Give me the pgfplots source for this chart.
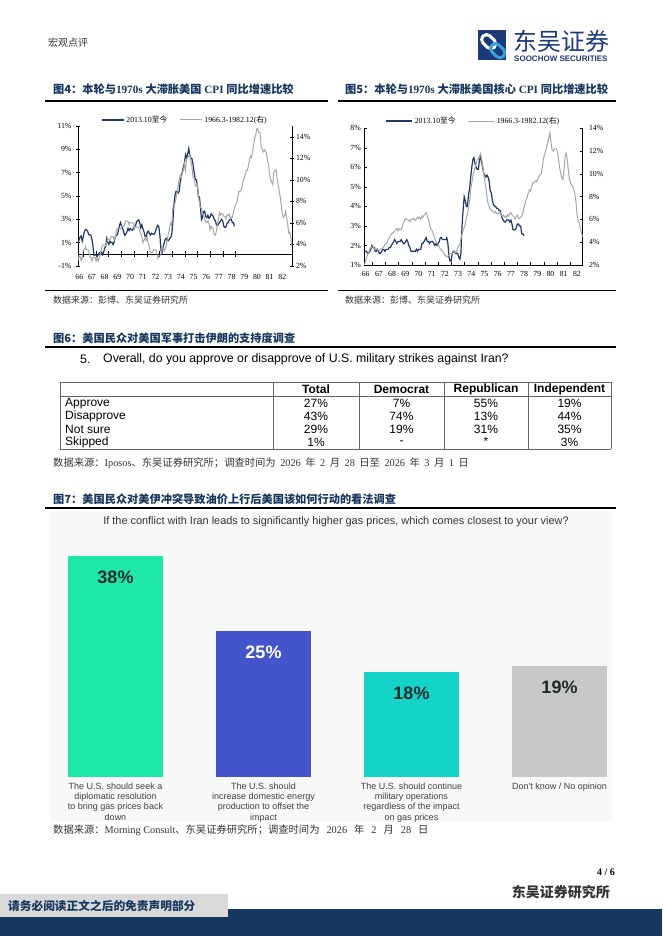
\documentclass[border=0pt]{standalone}
\usepackage{fontspec}
\usepackage{pgfplots}
\usepackage{pgfplotstable}
\pgfplotsset{compat=1.18}
\setmainfont{Liberation Serif}
\newfontfamily\cjk{Noto Sans CJK SC}
\newfontfamily\arial{Liberation Sans}
\definecolor{navy}{HTML}{1F3864}
\definecolor{ttl}{HTML}{17375E}
\definecolor{gline}{HTML}{A6A6A6}
\definecolor{bar1}{HTML}{1DE8A7}
\definecolor{bar2}{HTML}{4454CB}
\definecolor{bar3}{HTML}{14D3C7}
\definecolor{bar4}{HTML}{C8C8C8}
\definecolor{footnavy}{HTML}{17375E}
\definecolor{footgray}{HTML}{D9D9D9}
\definecolor{logonavy}{HTML}{1B3A78}
\definecolor{logoblue}{HTML}{3A9FDC}
\definecolor{srcgray}{HTML}{333333}
\definecolor{panelbg}{HTML}{F8F8F8}
\definecolor{lblgray}{HTML}{404040}
\definecolor{darklbl}{HTML}{1E2B2B}

% US CPI YoY, 2013.10 onwards (left axis, fig 4)
\pgfplotstableread[header=false,row sep=\\]{
0.96\\1.24\\1.50\\1.58\\1.13\\1.51\\1.95\\2.13\\2.07\\1.99\\1.70\\1.66\\1.66\\1.32\\0.76\\
-0.09\\-0.03\\-0.07\\-0.20\\-0.04\\0.12\\0.17\\0.20\\-0.04\\0.17\\0.50\\0.73\\
1.37\\1.02\\0.85\\1.13\\1.02\\1.01\\0.83\\1.06\\1.46\\1.64\\1.69\\2.07\\
2.50\\2.74\\2.38\\2.20\\1.87\\1.63\\1.73\\1.94\\2.23\\2.04\\2.20\\2.11\\
2.07\\2.21\\2.36\\2.46\\2.80\\2.87\\2.95\\2.70\\2.28\\2.52\\2.18\\1.91\\
1.55\\1.52\\1.86\\2.00\\1.79\\1.65\\1.81\\1.75\\1.71\\1.76\\2.05\\2.29\\
2.49\\2.33\\1.54\\0.33\\0.12\\0.65\\0.99\\1.31\\1.37\\1.18\\1.17\\1.36\\
1.40\\1.68\\2.62\\4.16\\4.99\\5.39\\5.37\\5.25\\5.39\\6.22\\6.81\\7.04\\
7.48\\7.87\\8.54\\8.26\\8.58\\9.06\\8.52\\8.26\\8.20\\7.75\\7.11\\6.45\\
6.41\\6.04\\4.98\\4.93\\4.05\\2.97\\3.18\\3.67\\3.70\\3.24\\3.14\\3.35\\
3.09\\3.17\\3.48\\3.36\\3.27\\2.97\\2.89\\2.53\\2.44\\2.60\\2.75\\2.89\\
3.00\\2.82\\2.39\\2.31\\2.35\\2.67\\2.70\\2.92\\3.01\\3.00\\2.70\\2.70\\2.40\\
}\cpinew

% US CPI YoY, 1966.3-1982.12 (right axis, fig 4)
\pgfplotstableread[header=false,row sep=\\]{
2.5\\2.9\\2.9\\2.5\\2.8\\3.5\\3.5\\3.8\\3.5\\3.5\\
3.46\\2.82\\2.82\\2.46\\2.79\\2.79\\2.78\\2.45\\2.78\\2.44\\2.77\\3.04\\
3.65\\3.95\\3.94\\3.93\\3.92\\4.20\\4.49\\4.48\\4.46\\4.75\\4.73\\4.72\\
4.40\\4.70\\5.24\\5.50\\5.52\\5.48\\5.44\\5.71\\5.70\\5.68\\5.93\\6.20\\
6.18\\6.15\\5.82\\6.06\\6.04\\6.01\\5.98\\5.41\\5.66\\5.63\\5.60\\5.57\\
5.29\\5.00\\4.71\\4.16\\4.40\\4.64\\4.36\\4.62\\4.08\\3.80\\3.28\\3.27\\
3.27\\3.51\\3.50\\3.49\\3.23\\2.71\\2.95\\2.94\\3.19\\3.42\\3.67\\3.41\\
3.65\\3.88\\4.59\\5.06\\5.53\\5.99\\5.73\\7.38\\7.36\\7.80\\8.25\\8.71\\
9.39\\10.02\\10.39\\10.09\\10.71\\10.86\\11.51\\10.86\\11.95\\12.06\\12.20\\12.34\\
11.80\\11.23\\10.25\\10.21\\9.47\\9.39\\9.72\\8.60\\7.91\\7.44\\7.38\\6.94\\
6.72\\6.29\\6.07\\6.05\\6.20\\5.97\\5.35\\5.71\\5.49\\5.46\\4.88\\4.86\\
5.22\\5.91\\6.44\\6.95\\6.73\\6.87\\6.83\\6.62\\6.60\\6.39\\6.72\\6.70\\
6.84\\6.43\\6.55\\6.50\\6.97\\7.41\\7.70\\7.84\\8.31\\8.93\\8.89\\9.02\\
9.28\\9.86\\10.09\\10.49\\10.85\\10.89\\11.26\\11.82\\12.18\\12.07\\12.61\\13.29\\
13.91\\14.18\\14.76\\14.73\\14.41\\14.38\\13.13\\12.87\\12.60\\12.77\\12.65\\12.52\\
11.83\\11.41\\10.49\\10.00\\9.78\\9.55\\10.76\\10.80\\10.95\\10.14\\9.59\\8.92\\
8.39\\7.62\\6.78\\6.51\\6.68\\7.06\\6.44\\5.85\\5.04\\5.14\\4.59\\3.83\\
}\cpiold

% US core CPI YoY, 2013.10 onwards (left axis, fig 5)
\pgfplotstableread[header=false,row sep=\\]{
1.7\\1.7\\1.7\\1.6\\1.6\\1.7\\1.8\\2.0\\1.9\\1.9\\1.7\\1.7\\1.8\\1.7\\1.6\\
1.6\\1.7\\1.8\\1.8\\1.7\\1.8\\1.8\\1.8\\1.9\\1.9\\2.0\\2.1\\
2.2\\2.3\\2.2\\2.1\\2.2\\2.2\\2.2\\2.3\\2.2\\2.1\\2.1\\2.2\\
2.3\\2.2\\2.0\\1.9\\1.7\\1.7\\1.7\\1.7\\1.7\\1.8\\1.7\\1.8\\
1.8\\1.8\\2.1\\2.1\\2.2\\2.3\\2.4\\2.2\\2.2\\2.1\\2.2\\2.2\\
2.2\\2.1\\2.0\\2.1\\2.0\\2.1\\2.2\\2.4\\2.4\\2.3\\2.3\\2.3\\
2.3\\2.4\\2.1\\1.4\\1.2\\1.2\\1.6\\1.7\\1.7\\1.6\\1.6\\1.6\\
1.4\\1.3\\1.6\\3.0\\3.8\\4.5\\4.3\\4.0\\4.0\\4.6\\4.9\\5.5\\
6.0\\6.4\\6.5\\6.2\\6.0\\5.9\\5.9\\6.3\\6.6\\6.3\\6.0\\5.7\\
5.6\\5.5\\5.6\\5.5\\5.3\\4.8\\4.7\\4.3\\4.1\\4.0\\4.0\\3.9\\
3.9\\3.8\\3.8\\3.6\\3.4\\3.3\\3.2\\3.2\\3.3\\3.3\\3.3\\3.2\\
3.3\\3.1\\2.8\\2.8\\2.8\\2.9\\3.1\\3.1\\3.0\\3.0\\2.6\\2.6\\2.5\\
}\corenew

% US core CPI YoY, 1966.3-1982.12 (right axis, fig 5)
\pgfplotstableread[header=false,row sep=\\]{
2.0\\2.3\\2.6\\2.9\\3.1\\3.4\\3.5\\3.6\\3.6\\3.4\\
3.5\\3.4\\3.3\\3.3\\3.3\\3.4\\3.4\\3.5\\3.6\\3.8\\3.9\\4.0\\
4.2\\4.4\\4.6\\4.7\\4.8\\4.9\\5.0\\5.1\\5.2\\5.0\\5.2\\5.1\\
5.1\\5.4\\5.7\\5.9\\6.1\\6.0\\6.0\\5.9\\5.8\\6.0\\6.0\\6.1\\
6.0\\5.9\\6.0\\6.2\\6.1\\6.2\\6.0\\6.3\\6.2\\6.4\\6.5\\6.6\\
6.3\\6.0\\5.6\\5.2\\5.1\\4.9\\4.6\\4.3\\4.1\\3.9\\3.8\\3.6\\
3.4\\3.3\\3.2\\3.1\\2.9\\2.8\\2.7\\2.8\\2.9\\3.0\\3.0\\3.0\\
3.1\\3.2\\3.1\\3.2\\3.5\\3.7\\3.8\\4.3\\4.7\\5.0\\5.3\\5.6\\
6.1\\6.5\\7.0\\7.6\\8.6\\9.2\\9.8\\10.2\\10.5\\10.9\\11.2\\11.3\\
11.6\\11.7\\11.3\\10.8\\10.0\\9.3\\8.8\\8.0\\7.4\\7.1\\6.9\\6.8\\
6.8\\6.6\\6.6\\6.7\\6.5\\6.5\\6.6\\6.6\\6.4\\6.3\\6.4\\6.2\\
6.3\\6.2\\6.4\\6.3\\6.5\\6.6\\6.4\\6.3\\6.2\\6.0\\6.3\\6.4\\
6.1\\6.1\\6.2\\6.3\\6.6\\7.0\\7.3\\7.7\\7.9\\8.3\\8.6\\8.5\\
8.8\\9.2\\9.2\\9.3\\9.4\\9.3\\9.6\\9.8\\9.9\\10.0\\10.6\\11.3\\
11.7\\12.0\\12.4\\12.8\\13.2\\13.6\\12.7\\12.1\\12.0\\12.2\\12.2\\12.2\\
11.9\\11.3\\10.5\\10.0\\9.6\\9.5\\10.4\\11.6\\11.8\\11.2\\10.3\\9.5\\
9.2\\9.0\\8.9\\8.6\\8.2\\7.5\\6.4\\5.8\\5.7\\5.2\\4.8\\4.5\\
}\coreold

\pgfplotsset{
  linechart/.style={
    scale only axis, anchor=south west,
    xmin=0, xmax=201,
    tick label style={font=\fontsize{7.8}{9}\selectfont, text=black},
    axis line style={black, line width=0.6pt},
    every tick/.style={black, line width=0.5pt},
    clip=false,
  },
}
\newcommand{\gsp}{\hspace{4.5pt}}
\newcommand{\hsp}{\hspace{7pt}}

\begin{document}
\begin{tikzpicture}
\fill[white] (0pt,0pt) rectangle (662pt,936pt);

% ---------------- header ----------------
\node[anchor=west, inner sep=0, font=\cjk\fontsize{10}{12}\selectfont, text=srcgray] at (48pt,893pt) {宏观点评};
\fill[logonavy] (478pt,876pt) rectangle (506pt,906pt);
\draw[white, line width=3pt, rounded corners=5pt, rotate around={-45:(488pt,895pt)}] (481pt,890pt) rectangle (497pt,900pt);
\draw[logoblue, line width=3pt, rounded corners=5pt, rotate around={-45:(497pt,886pt)}] (490pt,881pt) rectangle (506pt,891pt);
\node[anchor=west, inner sep=0, font=\cjk\fontsize{24}{26}\selectfont, text=logonavy] at (513pt,895pt) {东吴证券};
\node[anchor=west, inner sep=0, font=\arial\bfseries\fontsize{8}{9}\selectfont, text=logonavy] at (514pt,877pt) {SOOCHOW SECURITIES};

% ---------------- figure 4 / 5 titles ----------------
\node[anchor=west, inner sep=0, text=ttl, font=\fontsize{11.2}{13}\selectfont] at (53pt,847pt)
  {{\cjk\bfseries 图4：本轮与}\textbf{1970s} {\cjk\bfseries 大滞胀美国} \textbf{CPI} {\cjk\bfseries 同比增速比较}};
\node[anchor=west, inner sep=0, text=ttl, font=\fontsize{11.2}{13}\selectfont] at (345pt,847pt)
  {{\cjk\bfseries 图5：本轮与}\textbf{1970s} {\cjk\bfseries 大滞胀美国核心} \textbf{CPI} {\cjk\bfseries 同比增速比较}};
\draw[line width=1.2pt] (45pt,835pt) -- (328pt,835pt);
\draw[line width=1.2pt] (338pt,835pt) -- (616pt,835pt);
\draw[line width=1pt] (45pt,645pt) -- (328pt,645pt);
\draw[line width=1pt] (338pt,645pt) -- (616pt,645pt);
\node[anchor=west, inner sep=0, font=\cjk\fontsize{9}{11}\selectfont, text=srcgray] at (53pt,636pt) {数据来源：彭博、东吴证券研究所};
\node[anchor=west, inner sep=0, font=\cjk\fontsize{9}{11}\selectfont, text=srcgray] at (345pt,636pt) {数据来源：彭博、东吴证券研究所};

% ---------------- figure 4: CPI ----------------
\begin{axis}[linechart,
  at={(78pt,670pt)}, width=214pt, height=140pt,
  ymin=-1, ymax=11,
  axis y line*=left, axis x line*=middle,
  hide obscured x ticks=false,
  ytick={-1,1,3,5,7,9,11},
  yticklabels={-1\%,1\%,3\%,5\%,7\%,9\%,11\%},
  xtick={5,16.9,28.8,40.8,52.7,64.6,76.5,88.4,100.4,112.3,124.2,136.1,148},
  xticklabels={,,,,,,,,,,,,,},
  tick align=center, major tick length=6pt,
  ytick style={/pgfplots/major tick length=4pt},
  legend style={at={(0.5,1.043)}, anchor=center, draw=none, fill=none,
    legend columns=2, font=\fontsize{7.8}{9}\selectfont,
    /tikz/every even column/.append style={column sep=10pt}},
  legend image code/.code={\draw[#1] (0pt,0pt) -- (22pt,0pt);},
]
\addplot[navy, line width=1.2pt] table[x expr=\coordindex, y index=0] {\cpinew};
\addlegendentry{2013.10{\cjk 至今}}
\addlegendimage{gline, line width=1pt}
\addlegendentry{1966.3-1982.12({\cjk 右})}
\end{axis}
\begin{axis}[linechart,
  at={(78pt,670pt)}, width=214pt, height=140pt,
  ymin=2, ymax=15,
  axis y line*=right, axis x line*=bottom,
  x axis line style={draw=none},
  xtick={1.2,13.1,25.0,37.0,48.9,60.8,72.7,84.6,96.6,108.5,120.4,132.3,144.2,156.2,168.1,180.0,191.9},
  xticklabels={66,67,68,69,70,71,72,73,74,75,76,77,78,79,80,81,82},
  xtick style={draw=none},
  xticklabel style={yshift=-3pt},
  yticklabel style={xshift=-1.5pt},
  ytick={2,4,6,8,10,12,14},
  yticklabels={2\%,4\%,6\%,8\%,10\%,12\%,14\%},
  tick align=center, major tick length=4pt,
]
\addplot[gline, line width=1pt] table[x expr=\coordindex, y index=0] {\cpiold};
\end{axis}

% ---------------- figure 5: core CPI ----------------
\begin{axis}[linechart,
  at={(364.3pt,671pt)}, width=218.2pt, height=136.7pt,
  ymin=1, ymax=8,
  axis y line*=left, axis x line*=bottom,
  ytick={1,2,3,4,5,6,7,8},
  yticklabels={1\%,2\%,3\%,4\%,5\%,6\%,7\%,8\%},
  xtick={7.4,19.6,31.7,43.9,56,68.2,80.4,92.5,104.7,116.8,129,141.2,153.3,165.5,177.6,189.8},
  xticklabels={,,,,,,,,,,,,,,,,},
  tick align=inside, major tick length=3pt,
  legend style={at={(0.5,1.053)}, anchor=center, draw=none, fill=none,
    legend columns=2, font=\fontsize{7.8}{9}\selectfont,
    /tikz/every even column/.append style={column sep=10pt}},
  legend image code/.code={\draw[#1] (0pt,0pt) -- (26pt,0pt);},
]
\addplot[navy, line width=1.2pt] table[x expr=\coordindex, y index=0] {\corenew};
\addlegendentry{2013.10{\cjk 至今}}
\addlegendimage{gline, line width=1pt}
\addlegendentry{1966.3-1982.12({\cjk 右})}
\end{axis}
\begin{axis}[linechart,
  at={(364.3pt,671pt)}, width=218.2pt, height=136.7pt,
  ymin=2, ymax=14,
  axis y line*=right, axis x line*=bottom,
  x axis line style={draw=none},
  xtick={1.3,13.5,25.6,37.8,49.9,62.1,74.3,86.4,98.6,110.7,122.9,135.1,147.2,159.4,171.5,183.7,195.9},
  xticklabels={66,67,68,69,70,71,72,73,74,75,76,77,78,79,80,81,82},
  xtick style={draw=none},
  xticklabel style={yshift=-3pt},
  yticklabel style={xshift=3pt},
  ytick={2,4,6,8,10,12,14},
  yticklabels={2\%,4\%,6\%,8\%,10\%,12\%,14\%},
  tick align=inside, major tick length=3pt,
]
\addplot[gline, line width=1pt] table[x expr=\coordindex, y index=0] {\coreold};
\end{axis}

% ---------------- figure 6: table ----------------
\node[anchor=west, inner sep=0, text=ttl, font=\cjk\bfseries\fontsize{11.2}{13}\selectfont] at (53pt,598pt) {图6：美国民众对美国军事打击伊朗的支持度调查};
\draw[line width=1.2pt] (45pt,589pt) -- (616pt,589pt);
\node[anchor=west, inner sep=0, font=\arial\fontsize{12.3}{14}\selectfont] at (80pt,577pt) {5.};
\node[anchor=west, inner sep=0, font=\arial\fontsize{12.3}{14}\selectfont] at (103pt,577pt) {Overall, do you approve or disapprove of U.S. military strikes against Iran?};
\begin{scope}[draw=gray!80!black, line width=0.6pt]
\draw (60pt,554pt) -- (611pt,554pt);
\draw (60pt,540pt) -- (611pt,540pt);
\draw (60pt,487pt) -- (611pt,487pt);
\foreach \xx in {60,273,359,444,528,611} \draw (\xx pt,554pt) -- (\xx pt,487pt);
\end{scope}
\begin{scope}[every node/.style={inner sep=0, font=\arial\fontsize{12}{13}\selectfont}]
\node[font=\arial\bfseries\fontsize{12}{13}\selectfont] at (316pt,547pt) {Total};
\node[font=\arial\bfseries\fontsize{12}{13}\selectfont] at (401.5pt,547pt) {Democrat};
\node[font=\arial\bfseries\fontsize{12}{13}\selectfont] at (486pt,547pt) {Republican};
\node[font=\arial\bfseries\fontsize{12}{13}\selectfont] at (569.5pt,547pt) {Independent};
\node[anchor=west] at (65pt,532.5pt) {Approve};
\node[anchor=west] at (65pt,519.5pt) {Disapprove};
\node[anchor=west] at (65pt,506.5pt) {Not sure};
\node[anchor=west] at (65pt,493.5pt) {Skipped};
\node at (316pt,532.5pt) {27\%}; \node at (401.5pt,532.5pt) {7\%}; \node at (486pt,532.5pt) {55\%}; \node at (569.5pt,532.5pt) {19\%};
\node at (316pt,519.5pt) {43\%}; \node at (401.5pt,519.5pt) {74\%}; \node at (486pt,519.5pt) {13\%}; \node at (569.5pt,519.5pt) {44\%};
\node at (316pt,506.5pt) {29\%}; \node at (401.5pt,506.5pt) {19\%}; \node at (486pt,506.5pt) {31\%}; \node at (569.5pt,506.5pt) {35\%};
\node at (316pt,493.5pt) {1\%}; \node at (401.5pt,493.5pt) {-}; \node at (486pt,495pt) {*}; \node at (569.5pt,493.5pt) {3\%};
\end{scope}
\node[anchor=west, inner sep=0, font=\fontsize{10.3}{12}\selectfont, text=srcgray] at (53pt,473pt)
  {{\cjk 数据来源：}Iposos{\cjk 、东吴证券研究所；调查时间为}\gsp2026\gsp{\cjk 年}\gsp2\gsp{\cjk 月}\gsp28\gsp{\cjk 日至}\gsp2026\gsp{\cjk 年}\gsp3\gsp{\cjk 月}\gsp1\gsp{\cjk 日}};

% ---------------- figure 7: bar chart ----------------
\node[anchor=west, inner sep=0, text=ttl, font=\cjk\bfseries\fontsize{11.2}{13}\selectfont] at (53pt,437pt) {图7：美国民众对美伊冲突导致油价上行后美国该如何行动的看法调查};
\draw[line width=1.2pt] (45pt,428pt) -- (616pt,428pt);
\fill[panelbg] (50pt,115pt) rectangle (612pt,425pt);
\node[font=\arial\fontsize{10.9}{13}\selectfont, text=srcgray] at (336pt,414pt) {If the conflict with Iran leads to significantly higher gas prices, which comes closest to your view?};
\begin{axis}[
  at={(56.3pt,159pt)}, anchor=south west, scale only axis,
  width=562.4pt, height=232.8pt,
  xmin=-0.4, xmax=3.4, ymin=0, ymax=40,
  hide y axis,
  axis x line*=bottom, x axis line style={draw=none},
  xtick={0,1,2,3},
  xticklabels={{The U.S. should seek a\\diplomatic resolution\\to bring gas prices back\\down},
               {The U.S. should\\increase domestic energy\\production to offset the\\impact},
               {The U.S. should continue\\military operations\\regardless of the impact\\on gas prices},
               {Don't know / No opinion}},
  xtick style={draw=none},
  xticklabel style={align=center, anchor=north, yshift=-2.5pt, text=lblgray,
    font=\arial\fontsize{9}{10.2}\selectfont},
  clip=false,
  nodes near coords={\pgfmathprintnumber[assume math mode=true]{\pgfplotspointmeta}\%},
  every node near coord/.append style={anchor=center, yshift=-21pt,
    font=\arial\bfseries\fontsize{18}{20}\selectfont},
]
\addplot[ybar, bar width=95pt, bar shift=0pt, fill=bar1, draw=none,
  every node near coord/.append style={text=darklbl}] coordinates {(0,38)};
\addplot[ybar, bar width=95pt, bar shift=0pt, fill=bar2, draw=none,
  every node near coord/.append style={text=white}] coordinates {(1,25)};
\addplot[ybar, bar width=95pt, bar shift=0pt, fill=bar3, draw=none,
  every node near coord/.append style={text=darklbl}] coordinates {(2,18)};
\addplot[ybar, bar width=95pt, bar shift=0pt, fill=bar4, draw=none,
  every node near coord/.append style={text=darklbl}] coordinates {(3,19)};
\end{axis}
\node[anchor=west, inner sep=0, font=\fontsize{10.3}{12}\selectfont, text=srcgray] at (53pt,106pt)
  {{\cjk 数据来源：}Morning Consult{\cjk 、东吴证券研究所；调查时间为}\hsp2026\hsp{\cjk 年}\hsp2\hsp{\cjk 月}\hsp28\hsp{\cjk 日}};

% ---------------- footer ----------------
\node[anchor=east, inner sep=0, font=\bfseries\fontsize{10}{12}\selectfont] at (615pt,64pt) {4 / 6};
\node[anchor=east, inner sep=0, font=\cjk\bfseries\fontsize{14}{16}\selectfont, text=srcgray] at (610pt,44pt) {东吴证券研究所};
\fill[footnavy] (0pt,0pt) rectangle (662pt,27pt);
\fill[footgray] (0pt,19pt) rectangle (228pt,42pt);
\node[anchor=west, inner sep=0, font=\cjk\bfseries\fontsize{11.7}{13}\selectfont, text=ttl] at (8pt,30pt) {请务必阅读正文之后的免责声明部分};
\end{tikzpicture}
\end{document}
